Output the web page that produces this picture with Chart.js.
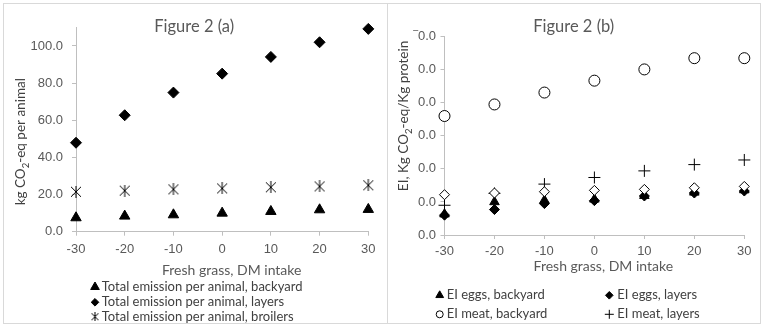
<!DOCTYPE html>
<html>
<head>
<meta charset="utf-8">
<title>Figure 2</title>
<script src="https://cdn.jsdelivr.net/npm/chart.js"></script>
<style>
  body { margin: 0; background: #fff; }
  .panel { position: absolute; top: 3px; height: 319px; border: 1px solid #d9d9d9; }
  #panelA { left: 3px; width: 383px; }
  #panelB { left: 387px; width: 372px; }
  canvas { display: block; }
</style>
</head>
<body>
<div class="panel" id="panelA"><canvas id="chartA" width="383" height="319"></canvas></div>
<div class="panel" id="panelB"><canvas id="chartB" width="372" height="319"></canvas></div>
<script>
// shared x axis
const xValues = [-30, -20, -10, 0, 10, 20, 30];
const xTickLabels = ['-30', '-20', '-10', '0', '10', '20', '30'];
const xTitle = 'Fresh grass, DM intake';

// Figure 2 (a)
const titleA = 'Figure 2 (a)';
const yTitleA = ['kg CO', '2', '-eq per animal'];
const labelsA = ['Total emission per animal, backyard', 'Total emission per animal, layers', 'Total emission per animal, broilers'];
const backyardA = [7.5, 8.4, 9.1, 10.0, 10.9, 11.8, 12.0];
const layersA = [47.9, 62.7, 74.9, 85.1, 94.1, 102.0, 109.2];
const broilersA = [21.5, 22.1, 22.8, 23.3, 23.9, 24.4, 25.0];
const yTicksA = [0, 20, 40, 60, 80, 100];
const yTickLabelsA = ['0.0', '20.0', '40.0', '60.0', '80.0', '100.0'];

// Figure 2 (b)
const titleB = 'Figure 2 (b)';
const yTitleB = ['EI, Kg CO', '2', '-eq/Kg protein'];
const labelsB = ['EI eggs, backyard', 'EI eggs, layers', 'EI meat, backyard', 'EI meat, layers', 'EI meat, broilers'];
const eggsBackyardB = [6.3, 10.0, 10.5, 10.8, 11.9, 12.9, 13.6];
const eggsLayersB = [6.0, 7.7, 9.5, 10.4, 11.8, 12.7, 13.3];
const meatBackyardB = [36.0, 39.5, 43.1, 46.7, 50.1, 53.5, 53.5];
const meatLayersB = [9.0, 12.6, 15.4, 17.4, 19.4, 21.3, 22.7];
const meatBroilersB = [12.2, 12.7, 13.1, 13.5, 13.8, 14.3, 14.7];
const yTicksB = [0, 10, 20, 30, 40, 50, 60];
const yTickLabelsB = ['0.0', '0.0', '0.0', '0.0', '0.0', '0.0', '\u203E0.0'];

const axisColor = '#bfbfbf';
const greyText = '#595959';
const darkText = '#404040';
const textFont = 'Lato, "Open Sans", sans-serif';

// excel style asterisk marker (X with a vertical bar)
function asterisk(size) {
    const c = document.createElement('canvas');
    c.width = c.height = size;
    const g = c.getContext('2d');
    const m = size / 2;
    g.strokeStyle = '#000';
    g.lineWidth = 1;
    g.beginPath();
    g.moveTo(1, 1); g.lineTo(size - 1, size - 1);
    g.moveTo(size - 1, 1); g.lineTo(1, size - 1);
    g.moveTo(m, 0); g.lineTo(m, size);
    g.stroke();
    return c;
}

function series(label, values, style, radius, fill, n, i) {
    return {
        label: label,
        data: xValues.map((x, k) => ({ x: x, y: values[k] })),
        showLine: false,
        pointStyle: style,
        pointRadius: radius,
        pointBorderWidth: 1,
        pointBorderColor: '#000',
        pointBackgroundColor: fill,
        clip: false,
        order: n - i  // later series on top, like excel
    };
}

// titles, axis titles and legend drawn on top of the chart
function decor(o) {
    return {
        id: 'decor',
        afterDraw(chart) {
            const ctx = chart.ctx;
            ctx.save();
            ctx.textAlign = 'center';
            ctx.fillStyle = greyText;
            ctx.font = '16.5px ' + textFont;
            ctx.textBaseline = 'alphabetic';
            ctx.fillText(o.title, o.titlePos[0], o.titlePos[1]);

            ctx.font = '14px ' + textFont;
            ctx.textBaseline = 'middle';
            ctx.fillText(xTitle, o.xTitlePos[0], o.xTitlePos[1]);

            // rotated y title with subscript
            ctx.save();
            ctx.translate(o.yTitlePos[0], o.yTitlePos[1]);
            ctx.rotate(-Math.PI / 2);
            ctx.fillStyle = darkText;
            ctx.textAlign = 'left';
            ctx.textBaseline = 'alphabetic';
            const big = '13.5px ' + textFont, small = '9.5px ' + textFont;
            ctx.font = big;
            const w0 = ctx.measureText(o.yTitle[0]).width;
            const w2 = ctx.measureText(o.yTitle[2]).width;
            ctx.font = small;
            const w1 = ctx.measureText(o.yTitle[1]).width;
            let x = -(w0 + w1 + w2) / 2;
            ctx.font = big;
            ctx.fillText(o.yTitle[0], x, 4);
            x += w0;
            ctx.font = small;
            ctx.fillText(o.yTitle[1], x, 7.5);
            x += w1;
            ctx.font = big;
            ctx.fillText(o.yTitle[2], x, 4);
            ctx.restore();

            // legend
            ctx.font = '13px ' + textFont;
            ctx.textAlign = 'left';
            ctx.textBaseline = 'middle';
            o.legend.forEach(item => {
                const ds = chart.data.datasets[item.ds];
                ctx.fillStyle = ds.pointBackgroundColor;
                ctx.strokeStyle = '#000';
                ctx.lineWidth = 1;
                Chart.helpers.drawPoint(ctx, {
                    pointStyle: item.style || ds.pointStyle,
                    radius: item.r,
                    borderWidth: 1,
                    rotation: 0
                }, item.x, item.y);
                ctx.fillStyle = darkText;
                ctx.fillText(ds.label, item.x + item.gap, item.y);
            });
            ctx.restore();
        }
    };
}

function makeChart(id, datasets, o) {
    const tickFont = { family: '"Liberation Sans", Arial, sans-serif', size: 13 };
    return new Chart(document.getElementById(id), {
        type: 'scatter',
        data: { datasets: datasets },
        options: {
            responsive: false,
            animation: false,
            devicePixelRatio: 1,
            events: [],
            layout: { padding: { top: o.padTop, right: o.padRight, bottom: 0, left: 0 } },
            plugins: { legend: { display: false }, tooltip: { enabled: false }, title: { display: false } },
            scales: {
                x: {
                    type: 'linear',
                    min: -30,
                    max: 30,
                    afterBuildTicks: s => { s.ticks = xValues.map(v => ({ value: v })); },
                    afterFit: s => { s.height = o.xHeight; },
                    grid: { drawOnChartArea: false, drawTicks: true, tickLength: 4, color: axisColor },
                    border: { color: axisColor },
                    ticks: {
                        padding: o.xPad, color: greyText, font: tickFont,
                        autoSkip: false, maxRotation: 0,
                        callback: (v, i) => xTickLabels[i]
                    }
                },
                y: {
                    type: 'linear',
                    min: 0,
                    max: o.yMax,
                    afterBuildTicks: s => { s.ticks = o.yTicks.map(v => ({ value: v })); },
                    afterFit: s => { s.width = o.yWidth; },
                    grid: { drawOnChartArea: false, drawTicks: true, tickLength: 4, color: axisColor },
                    border: { color: axisColor },
                    ticks: {
                        padding: o.yPad, color: greyText, font: tickFont,
                        autoSkip: false,
                        callback: (v, i) => o.yTickLabels[i]
                    }
                }
            }
        },
        plugins: [decor(o)]
    });
}

makeChart('chartA', [
    series(labelsA[0], backyardA, 'triangle', 6, '#000', 3, 0),
    series(labelsA[1], layersA, 'rectRot', 5.5, '#000', 3, 1),
    series(labelsA[2], broilersA, asterisk(12), 6, '#000', 3, 2)
], {
    padTop: 23.4, padRight: 18.7, xHeight: 91.3, yWidth: 72,
    xPad: 6, yPad: 9, yMax: 110, yTicks: yTicksA, yTickLabels: yTickLabelsA,
    title: titleA, titlePos: [190.2, 28],
    xTitlePos: [227.7, 266.7],
    yTitle: yTitleA, yTitlePos: [17, 137.7],
    legend: [
        { ds: 0, x: 91, y: 283, r: 5, gap: 6.7 },
        { ds: 1, x: 91, y: 298.3, r: 3.8, gap: 6.7 },
        { ds: 2, x: 91, y: 312.7, r: 4, gap: 6.7, style: asterisk(9) }
    ]
});

makeChart('chartB', [
    series(labelsB[0], eggsBackyardB, 'triangle', 5.5, '#000', 5, 0),
    series(labelsB[1], eggsLayersB, 'rectRot', 5, '#000', 5, 1),
    series(labelsB[2], meatBackyardB, 'circle', 5.5, '#fff', 5, 2),
    series(labelsB[3], meatLayersB, 'cross', 6, '#000', 5, 3),
    series(labelsB[4], meatBroilersB, 'rectRot', 5, '#fff', 5, 4)
], {
    padTop: 32.7, padRight: 15.7, xHeight: 88, yWidth: 56.5,
    xPad: 5, yPad: 4.5, yMax: 60, yTicks: yTicksB, yTickLabels: yTickLabelsB,
    title: titleB, titlePos: [185.7, 28],
    xTitlePos: [215.3, 262.7],
    yTitle: yTitleB, yTitlePos: [16, 112],
    legend: [
        { ds: 0, x: 51.7, y: 291.3, r: 4.5, gap: 7 },
        { ds: 1, x: 221.3, y: 291.3, r: 3.8, gap: 8 },
        { ds: 2, x: 51.7, y: 310.3, r: 3.5, gap: 7 },
        { ds: 3, x: 221.3, y: 310.3, r: 4.5, gap: 8 }
    ]
});
</script>
</body>
</html>
